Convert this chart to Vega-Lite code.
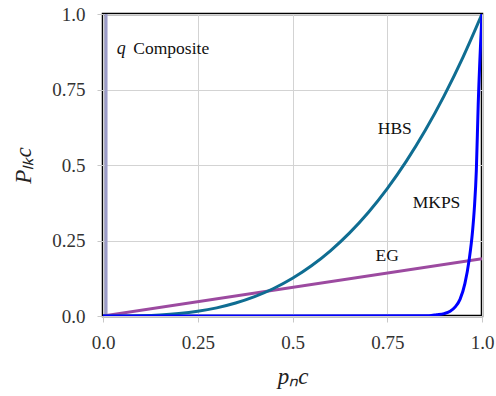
{
  "$schema": "https://vega.github.io/schema/vega-lite/v6.json",
  "width": 379,
  "height": 302,
  "autosize": {"type": "none"},
  "padding": {"left": 103, "top": 14, "right": 14, "bottom": 80},
  "background": "white",
  "config": {
    "view": {"stroke": "black", "strokeWidth": 2.5},
    "font": "Liberation Serif"
  },
  "datasets": {
    "hbs": [
      {"x": 0, "y": 0}, {"x": 0.05, "y": 0.0001}, {"x": 0.1, "y": 0.001}, {"x": 0.15, "y": 0.0034},
      {"x": 0.2, "y": 0.008}, {"x": 0.25, "y": 0.0156}, {"x": 0.3, "y": 0.027}, {"x": 0.35, "y": 0.0429},
      {"x": 0.4, "y": 0.064}, {"x": 0.45, "y": 0.0911}, {"x": 0.5, "y": 0.125}, {"x": 0.55, "y": 0.1664},
      {"x": 0.6, "y": 0.216}, {"x": 0.65, "y": 0.2746}, {"x": 0.7, "y": 0.343}, {"x": 0.75, "y": 0.4219},
      {"x": 0.8, "y": 0.512}, {"x": 0.85, "y": 0.6141}, {"x": 0.9, "y": 0.729}, {"x": 0.95, "y": 0.8574},
      {"x": 1, "y": 1}
    ],
    "eg": [{"x": 0, "y": 0}, {"x": 1, "y": 0.19}],
    "mkps": [
      {"x": 0, "y": 0}, {"x": 0.86, "y": 0.001}, {"x": 0.88, "y": 0.004}, {"x": 0.9, "y": 0.008},
      {"x": 0.916, "y": 0.016}, {"x": 0.93, "y": 0.031}, {"x": 0.942, "y": 0.055}, {"x": 0.955, "y": 0.108},
      {"x": 0.966, "y": 0.185}, {"x": 0.975, "y": 0.28}, {"x": 0.98, "y": 0.36}, {"x": 0.985, "y": 0.48},
      {"x": 0.99, "y": 0.7}, {"x": 1, "y": 1}
    ],
    "qc": [{"x": 0.008, "y": 0}, {"x": 0.008, "y": 1}],
    "italicLabels": [
      {"x": 0.036, "y": 0.885, "t": "q"}
    ],
    "leftLabels": [
      {"x": 0.08, "y": 0.885, "t": "Composite"}
    ],
    "centerLabels": [
      {"x": 0.77, "y": 0.62, "t": "HBS"},
      {"x": 0.88, "y": 0.375, "t": "MKPS"},
      {"x": 0.75, "y": 0.2, "t": "EG"}
    ]
  },
  "encoding": {
    "x": {
      "field": "x", "type": "quantitative",
      "scale": {"domain": [0, 1], "nice": false, "zero": false},
      "axis": {
        "values": [0, 0.25, 0.5, 0.75, 1],
        "labelExpr": "datum.value == 0 ? '0.0' : datum.value == 1 ? '1.0' : datum.value == 0.5 ? '0.5' : datum.value == 0.25 ? '0.25' : '0.75'",
        "labelFlush": false,
        "labelOverlap": false,
        "labelFont": "Liberation Serif",
        "labelFontSize": 19,
        "labelColor": "#333333",
        "labelPadding": 11,
        "gridColor": "#d3d3d3",
        "tickColor": "#c8c8c8",
        "tickSize": 6,
        "domain": false,
        "title": "pₙc",
        "titleFont": "Liberation Serif",
        "titleFontSize": 23,
        "titleFontStyle": "italic",
        "titleFontWeight": "normal",
        "titlePadding": 13,
        "titleColor": "#222222"
      }
    },
    "y": {
      "field": "y", "type": "quantitative",
      "scale": {"domain": [0, 1], "nice": false, "zero": false},
      "axis": {
        "values": [0, 0.25, 0.5, 0.75, 1],
        "labelExpr": "datum.value == 0 ? '0.0' : datum.value == 1 ? '1.0' : datum.value == 0.5 ? '0.5' : datum.value == 0.25 ? '0.25' : '0.75'",
        "labelFlush": false,
        "labelOverlap": false,
        "labelFont": "Liberation Serif",
        "labelFontSize": 19,
        "labelColor": "#333333",
        "labelPadding": 12,
        "gridColor": "#d3d3d3",
        "tickColor": "#c8c8c8",
        "tickSize": 6,
        "domain": false,
        "title": "Pₗₖc",
        "titleFont": "Liberation Serif",
        "titleFontSize": 23,
        "titleFontStyle": "italic",
        "titleFontWeight": "normal",
        "titlePadding": 16,
        "titleColor": "#222222"
      }
    }
  },
  "layer": [
    {"data": {"name": "qc"}, "mark": {"type": "line", "color": "#9c9cc8", "strokeWidth": 3, "clip": true}},
    {"data": {"name": "eg"}, "mark": {"type": "line", "color": "#9c4aa0", "strokeWidth": 3, "clip": true}},
    {"data": {"name": "hbs"}, "mark": {"type": "line", "color": "#0f6d92", "strokeWidth": 3, "interpolate": "monotone", "clip": true}},
    {"data": {"name": "mkps"}, "mark": {"type": "line", "color": "#0000ff", "strokeWidth": 3, "interpolate": "monotone", "clip": true}},
    {
      "data": {"name": "italicLabels"},
      "mark": {"type": "text", "fontSize": 18, "font": "Liberation Serif", "fontStyle": "italic", "color": "#111111", "baseline": "middle", "align": "left"},
      "encoding": {"text": {"field": "t"}}
    },
    {
      "data": {"name": "leftLabels"},
      "mark": {"type": "text", "fontSize": 17.5, "font": "Liberation Serif", "color": "#111111", "baseline": "middle", "align": "left"},
      "encoding": {"text": {"field": "t"}}
    },
    {
      "data": {"name": "centerLabels"},
      "mark": {"type": "text", "fontSize": 17.5, "font": "Liberation Serif", "color": "#111111", "baseline": "middle", "align": "center"},
      "encoding": {"text": {"field": "t"}}
    }
  ]
}
